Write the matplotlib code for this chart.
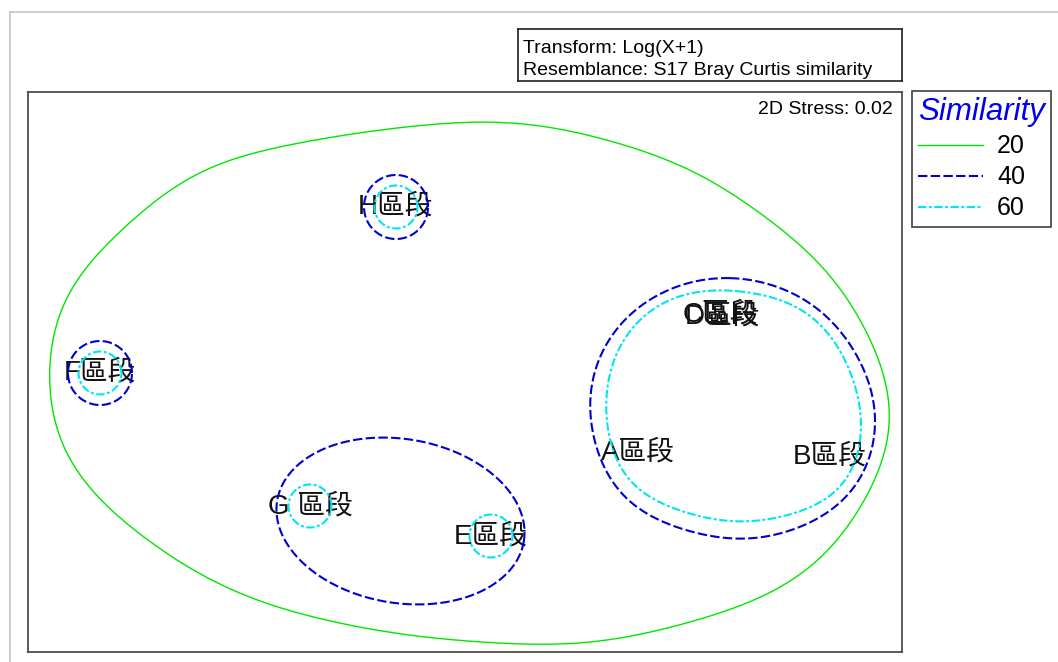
import numpy as np
import matplotlib.pyplot as plt
from matplotlib.lines import Line2D

plt.rcParams['font.family'] = ['Liberation Sans', 'Noto Sans CJK TC']

# MDS ordination of the eight sections
labels = ["A區段", "B區段", "C區段", "D區段", "E區段", "F區段", "G 區段", "H區段"]
mds_x = [1.72, 3.64, 2.54, 2.57, 0.25, -3.66, -1.56, -0.70]
mds_y = [-0.81, -0.85, 0.57, 0.55, -1.64, -0.01, -1.34, 1.65]

# similarity 20 contour (all sites)
sim20_x = [0.51, -0.16, -1.46, -2.46, -2.96, -3.46, -3.79, -4.03, -4.14, -4.16,
           -4.14, -3.96, -3.46, -2.79, -2.13, -1.13, -0.16, 0.67, 1.51, 2.51,
           3.17, 3.67, 4.01, 4.21, 4.24, 4.04, 3.67, 3.17, 2.51, 1.84, 1.17]
sim20_y = [2.49, 2.50, 2.34, 2.10, 1.82, 1.42, 1.05, 0.69, 0.32, -0.13,
           -0.41, -0.91, -1.48, -1.95, -2.28, -2.55, -2.68, -2.73, -2.68, -2.43,
           -2.15, -1.75, -1.25, -0.75, -0.25, 0.35, 0.95, 1.42, 1.89, 2.19, 2.39]

# similarity 40 contour around A, B, C, D
sim40_abcd_x = [2.64, 3.17, 3.67, 4.01, 4.11, 3.97, 3.67, 3.21, 2.67, 2.17,
                1.67, 1.34, 1.24, 1.25, 1.44, 1.71, 2.17]
sim40_abcd_y = [0.95, 0.85, 0.52, -0.01, -0.51, -1.05, -1.38, -1.61, -1.68, -1.58,
                -1.35, -0.91, -0.41, -0.08, 0.35, 0.65, 0.89]

# similarity 60 contour around A, B, C, D
sim60_abcd_x = [2.71, 3.27, 3.67, 3.89, 3.96, 3.92, 3.77, 3.34, 2.74, 2.17,
                1.67, 1.46, 1.39, 1.46, 1.71, 2.17]
sim60_abcd_y = [0.82, 0.69, 0.35, -0.11, -0.48, -0.80, -1.15, -1.41, -1.51, -1.41,
                -1.15, -0.78, -0.33, 0.10, 0.52, 0.79]

# the E + G group at similarity 40 (ellipse semi axes)
ge_members = ["E區段", "G 區段"]
ge_axes = (1.25, 0.82)

# sites that stand alone at a level, and the contour radius
single_40 = ["F區段", "H區段"]
single_60 = ["E區段", "F區段", "G 區段", "H區段"]
radius_40 = 0.32
radius_60 = 0.215

levels = ["20", "40", "60"]
level_style = {
    "20": dict(color="#00e600", lw=1.0, linestyle="-"),
    "40": dict(color="#0000d0", lw=1.5, linestyle=(0, (4.5, 1.6))),
    "60": dict(color="#00e5f0", lw=1.5, linestyle=(0, (4.0, 1.2, 1.4, 1.2))),
}


def smooth_closed(xs, ys, keep=8, n=800):
    # resample the traced outline evenly, then keep the low harmonics
    p = np.column_stack([xs + xs[:1], ys + ys[:1]])
    d = np.concatenate([[0], np.cumsum(np.hypot(*np.diff(p, axis=0).T))])
    s = np.linspace(0, d[-1], n, endpoint=False)
    z = np.interp(s, d, p[:, 0]) + 1j * np.interp(s, d, p[:, 1])
    f = np.fft.fft(z)
    k = np.fft.fftfreq(n, 1 / n)
    f[np.abs(k) > keep] = 0
    z = np.fft.ifft(f)
    z = np.append(z, z[0])
    return z.real, z.imag


def circle(cx, cy, r, n=200):
    a = np.linspace(0, 2 * np.pi, n)
    return cx + r * np.cos(a), cy + r * np.sin(a)


pos = {lab: (x, y) for lab, x, y in zip(labels, mds_x, mds_y)}

W, H = 1058, 662
fig = plt.figure(figsize=(W / 100, H / 100), dpi=100)

# screenshot frame
fig.add_artist(Line2D([10 / W, 1], [1 - 12 / H, 1 - 12 / H], color="#c4c4c4", lw=1.2,
                      transform=fig.transFigure))
fig.add_artist(Line2D([10 / W, 10 / W], [0, 1 - 12 / H], color="#c4c4c4", lw=1.2,
                      transform=fig.transFigure))

ax = fig.add_axes([27.5 / W, 10 / H, 874.5 / W, 560 / H])
ax.set_xlim(-4.385, 4.36)
ax.set_ylim(-2.80, 2.80)
ax.set_xticks([])
ax.set_yticks([])
for s in ax.spines.values():
    s.set_color("#404040")
    s.set_linewidth(1.2)

handles = {}
x, y = smooth_closed(sim20_x, sim20_y, keep=14)
handles["20"], = ax.plot(x, y, zorder=3, **level_style["20"])

x, y = smooth_closed(sim40_abcd_x, sim40_abcd_y, keep=7)
handles["40"], = ax.plot(x, y, zorder=3, **level_style["40"])
x, y = smooth_closed(sim60_abcd_x, sim60_abcd_y, keep=7)
handles["60"], = ax.plot(x, y, zorder=3, **level_style["60"])

# E + G ellipse, aligned with the two sites
(gx, gy), (ex, ey) = pos[ge_members[1]], pos[ge_members[0]]
cx, cy = (gx + ex) / 2, (gy + ey) / 2
ang = np.arctan2(ey - gy, ex - gx)
tt = np.linspace(0, 2 * np.pi, 300)
u, v = ge_axes[0] * np.cos(tt), ge_axes[1] * np.sin(tt)
ax.plot(cx + u * np.cos(ang) - v * np.sin(ang), cy + u * np.sin(ang) + v * np.cos(ang),
        zorder=3, **level_style["40"])

for lab in single_40:
    x, y = circle(*pos[lab], radius_40)
    ax.plot(x, y, zorder=3, **level_style["40"])
for lab in single_60:
    x, y = circle(*pos[lab], radius_60)
    ax.plot(x, y, zorder=3, **level_style["60"])

for lab, x, y in zip(labels, mds_x, mds_y):
    ax.text(x, y, lab, ha="center", va="center", fontsize=20, fontweight="light",
            color="#111111", zorder=2)

ax.text(0.9897, 0.968, "2D Stress: 0.02", transform=ax.transAxes, ha="right", va="center",
        fontsize=14)

# transform / resemblance box
hx = fig.add_axes([518 / W, 1 - 81 / H, 384 / W, 52 / H])
hx.set_xticks([])
hx.set_yticks([])
for s in hx.spines.values():
    s.set_color("#202020")
    s.set_linewidth(1.2)
hx.text(0.013, 0.53, "Transform: Log(X+1)", transform=hx.transAxes, va="baseline",
        fontsize=14)
hx.text(0.013, 0.11, "Resemblance: S17 Bray Curtis similarity", transform=hx.transAxes,
        va="baseline", fontsize=14)

leg = fig.legend([handles[k] for k in levels], levels, loc="upper left",
                 bbox_to_anchor=(912 / W, 1 - 91 / H), borderaxespad=0,
                 title="Similarity", alignment="left", fontsize=18,
                 title_fontproperties={"size": 22.5, "style": "italic"},
                 handlelength=2.6, handletextpad=0.55, labelspacing=0.28,
                 borderpad=0.25, fancybox=False, framealpha=1)
leg.get_title().set_color("#0000ee")
leg.get_frame().set_edgecolor("#404040")
leg.get_frame().set_linewidth(1.2)

fig.savefig("out.png", dpi=100)
